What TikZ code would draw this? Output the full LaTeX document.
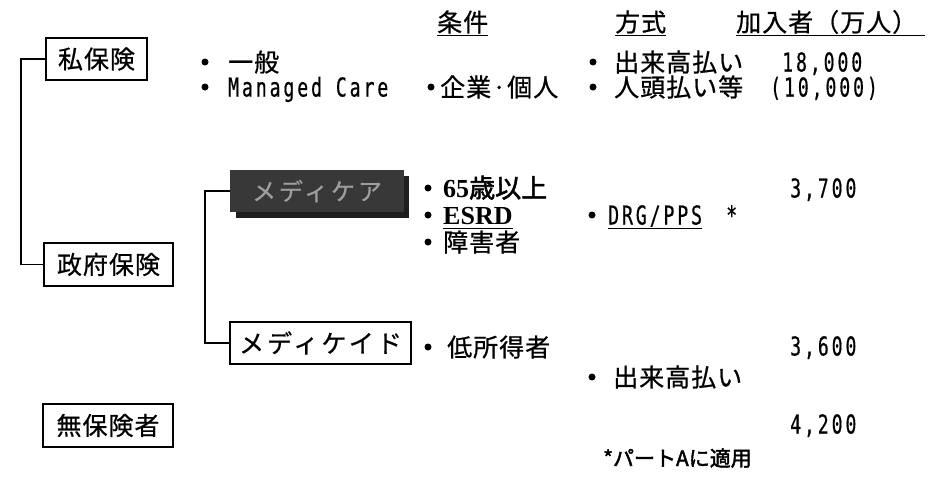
\documentclass[tikz,border=0pt]{standalone}
\usepackage{fontspec}
\setmainfont{Liberation Serif}
\newfontfamily\jp[LetterSpace=4,FakeBold=0.7]{Noto Sans CJK JP}
\newfontfamily\jpw[LetterSpace=12,FakeBold=0.7]{Noto Sans CJK JP}
\newfontfamily\jpb[FakeBold=2]{Noto Sans CJK JP}
\newfontfamily\mono[FakeStretch=0.7,LetterSpace=11,FakeBold=0.5]{DejaVu Sans Mono}
\usetikzlibrary{calc}
\tikzset{
  box/.style={draw, line width=1.6pt, inner sep=0pt, font=\jp\fontsize{25}{25}\selectfont},
  conn/.style={line width=1.6pt},
  txt/.style={inner sep=0pt, anchor=west, text height=19pt, text depth=0pt, font=\jp\fontsize{25}{25}\selectfont},
  num/.style={txt, font=\mono\fontsize{26}{26}\selectfont},
  bul/.style={fill=black},
  uline/.style={line width=1.3pt}
}
\begin{document}
\begin{tikzpicture}[x=1pt,y=-1pt]
\useasboundingbox[fill=white] (0,0) rectangle (937,477);

% headers
\node[txt] (h1) at (437,22) {条件};
\node[txt] (h2) at (615,22) {方式};
\node[txt] (h3) at (736,22) {加入者（万人）};
\draw[uline] ($(h1.south west)+(0,4)$) -- ($(h1.south east)+(0,4)$);
\draw[uline] ($(h2.south west)+(0,4)$) -- ($(h2.south east)+(0,4)$);
\draw[uline] ($(h3.south west)+(0,4)$) -- ($(h3.south east)+(8,4)$);

% boxes
\node[box, minimum width=101pt, minimum height=42pt] (pri) at (96.5,59) {私保険};
\node[box, minimum width=129pt, minimum height=43pt] (gov) at (108.5,264.5) {政府保険};
\node[box, minimum width=130pt, minimum height=43pt] (unins) at (108,425.5) {無保険者};
\fill[black!88] (236,176) rectangle (409,218);
\node[inner sep=0pt, minimum width=174pt, minimum height=42pt, fill=black!78,
      text=black!38, font=\jpw\fontsize{24}{24}\selectfont] (care) at (317,191) {メディケア};
\node[box, minimum width=181pt, minimum height=42pt, font=\jpw\fontsize{25}{25}\selectfont] (caid) at (320.5,343) {メディケイド};

% connectors
\coordinate (c1) at (21,59);
\draw[conn] (pri.west) -- (c1) |- (gov.west);
\coordinate (c2) at (205,191);
\draw[conn] (care.west) -- (c2) |- (caid.west);

% private insurance row
\fill[bul] (205,62) circle (3.5);
\node[txt] (p1) at (228,62) {一般};
\fill[bul] (205,87) circle (3.5);
\node[num] (p2) at (228,87) {Managed Care};
\fill[bul] (431,87) circle (3.5);
\node[txt] (p3) at (440,87) {企業·個人};
\fill[bul] (593,62) circle (3.5);
\node[txt] (p4) at (614,62) {出来高払い};
\fill[bul] (593,87) circle (3.5);
\node[txt] (p5) at (614,87) {人頭払い等};
\node[num] (n1) at (782,62) {18,000};
\node[num] (n2) at (770,87) {(10,000)};

% medicare
\fill[bul] (428,188) circle (3.5);
\node[txt, font=\fontsize{26}{26}\selectfont] (m1) at (443,188) {\textbf{65}{\jpb 歳以上}};
\fill[bul] (428,215) circle (3.5);
\node[txt, font=\bfseries\fontsize{26}{26}\selectfont] (m2) at (443,215) {ESRD};
\draw[uline] ($(m2.south west)+(0,4)$) -- ($(m2.south east)+(0,4)$);
\fill[bul] (428,242) circle (3.5);
\node[txt] (m3) at (443,242) {障害者};
\fill[bul] (592,215) circle (3.5);
\node[num] (m4) at (608,215) {DRG/PPS};
\draw[uline] ($(m4.south west)+(0,4)$) -- ($(m4.south east)+(0,4)$);
\node[num] (m5) at (726,215) {*};
\node[num] (n3) at (790,188) {3,700};

% medicaid
\fill[bul] (428,347) circle (3.5);
\node[txt] (d1) at (447,347) {低所得者};
\node[num] (n4) at (790,346) {3,600};
\fill[bul] (592,377) circle (3.5);
\node[txt] (d2) at (613,377) {出来高払い};
\node[num] (n5) at (790,424) {4,200};

% footnote
\node[txt, text height=16pt, font=\jpb\fontsize{21}{21}\selectfont] (fn) at (603,458) {*パートAに適用};
\end{tikzpicture}
\end{document}
